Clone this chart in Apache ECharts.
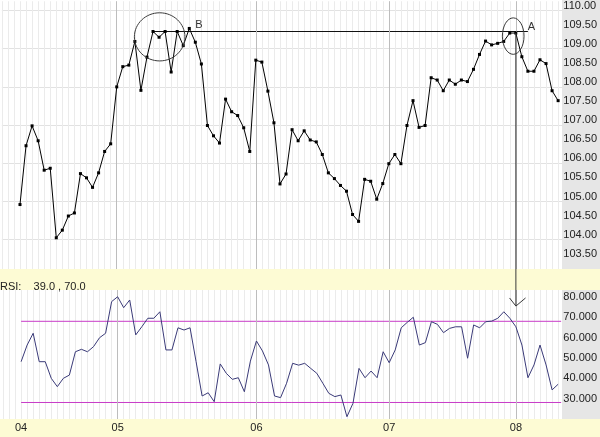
<!DOCTYPE html>
<html><head><meta charset="utf-8">
<script src="https://cdn.jsdelivr.net/npm/echarts@6/dist/echarts.min.js"></script>
<style>
html,body{margin:0;padding:0;background:#fff;}
#wrap{position:relative;width:600px;height:437px;overflow:hidden;background:#fff;}
.bg{position:absolute;}
#chart{position:absolute;left:0;top:0;width:600px;height:437px;}
</style></head><body>
<div id="wrap">
<div class="bg" style="left:562px;top:0;width:38px;height:269px;background:#e6e6e6"></div>
<div class="bg" style="left:0;top:269px;width:600px;height:21px;background:#fdfbd4"></div>
<div class="bg" style="left:562px;top:290px;width:38px;height:129px;background:#e6e6e6"></div>
<div class="bg" style="left:0;top:419px;width:600px;height:18px;background:#fdfbd4"></div>
<div id="chart"></div>
</div>
<script>
// ---- data ----
const priceVals = [
  104.92,106.46,106.98,106.59,105.82,105.87,104.05,104.25,104.62,104.70,
  105.73,105.62,105.37,105.75,106.31,106.51,108.00,108.53,108.57,109.19,
  107.91,108.78,109.45,109.30,109.45,108.39,109.45,109.08,109.53,109.17,
  108.60,106.99,106.72,106.53,107.68,107.35,107.25,106.93,106.31,108.70,
  108.65,107.89,107.06,105.46,105.72,106.88,106.59,106.85,106.61,106.56,
  106.23,105.75,105.60,105.42,105.27,104.66,104.48,105.58,105.53,105.06,
  105.47,105.99,106.23,105.99,106.99,107.64,106.94,106.99,108.24,108.18,
  107.90,108.18,108.07,108.18,108.14,108.46,108.85,109.20,109.10,109.14,
  109.19,109.41,109.41,108.79,108.41,108.41,108.71,108.61,107.90,107.64
];
const rsiVals = [
  50.1,58.3,64.1,50.1,50.1,41.9,37.8,41.9,43.5,55.0,
  56.2,55.0,57.5,61.9,64.1,79.7,82.1,76.7,80.5,63.3,
  67.3,71.5,71.5,74.7,55.9,55.9,66.8,65.7,66.8,50.1,
  33.2,34.8,30.4,49.0,44.4,41.4,42.2,35.3,50.4,60.3,
  55.4,48.5,33.2,32.4,39.5,49.3,48.4,49.3,46.8,44.4,
  39.5,34.5,32.9,33.7,23.0,29.6,46.8,42.2,45.5,42.2,
  55.0,49.6,55.9,66.8,69.5,72.0,58.3,59.5,69.8,68.5,
  64.4,66.5,67.3,67.3,51.8,68.2,66.8,69.8,70.1,71.5,
  74.7,71.5,67.3,58.3,42.2,48.5,58.3,48.5,36.2,39.0
];
const monthLabels = ['04','05','06','07','08'];
const monthStarts = [0,16,39,61,82];
const rsiTitle = 'RSI:    39.0 , 70.0';
const rsiBands = [70, 30];
const bandSpan = [0, 89.5];
const levelAB = 109.45;          // B-A horizontal line level
const levelFrom = 22, levelTo = 84;
const arrowIdx = 82, arrowRsi = 77.5, arrowHeadRsi = 81.5;

// ---- chart ----
const FONT = 'Liberation Sans, Arial, sans-serif';
const chart = echarts.init(document.getElementById('chart'), null, {renderer:'canvas'});
const G = {left:1.85, width:560.8};
function xAxisFor(gi, showLabels){
  return {
    type:'value', gridIndex:gi, min:-3, max:89.7, interval:1,
    axisLine:{show:false}, axisTick:{show:false},
    splitLine:{show:true, showMinLine:true, showMaxLine:false, lineStyle:{color:'#ebebeb', width:1}},
    axisLabel:{show:showLabels, margin:3, fontSize:11, fontFamily:FONT, color:'#222',
      formatter:function(v){ const k = monthStarts.indexOf(Math.round(v)); return (k>=0 && Math.abs(v-Math.round(v))<1e-6) ? monthLabels[k] : ''; }}
  };
}
const makeMonthLines = () => monthStarts.slice(1).map(m => ({xAxis:m}));

const bandSeries = rsiBands.map(b => ({
  type:'line', xAxisIndex:1, yAxisIndex:2, silent:true,
  data: bandSpan.map(x => [x, b]),
  symbol:'none', showSymbol:false,
  lineStyle:{color:'#c83cc8', width:1}, itemStyle:{color:'#c83cc8'},
  z:3
}));

chart.setOption({
  animation:false,
  backgroundColor:'transparent',
  title:{text:rsiTitle, left:-5, top:276, textStyle:{fontSize:11, fontWeight:'normal', fontFamily:FONT, color:'#222'}},
  grid:[
    {left:G.left, width:G.width, top:0, height:269},
    {left:G.left, width:G.width, top:290, height:129}
  ],
  xAxis:[ xAxisFor(0,false), xAxisFor(1,true) ],
  yAxis:[
    {type:'value', gridIndex:0, position:'right', min:103.233, max:110.242, splitNumber:14,
     axisLine:{show:false}, axisTick:{show:false}, splitLine:{show:false},
     axisLabel:{margin:1, fontSize:11, fontFamily:FONT, color:'#222', verticalAlign:'bottom', lineHeight:10,
       showMinLabel:false, showMaxLabel:false,
       formatter:function(v){ return Math.abs(v*2-Math.round(v*2))<1e-6 ? v.toFixed(2) : ''; }}},
    {type:'value', gridIndex:0, position:'right', min:103.233, max:110.242, splitNumber:7,
     axisLine:{show:false}, axisTick:{show:false}, axisLabel:{show:false},
     splitLine:{show:true, showMinLine:false, showMaxLine:false, lineStyle:{color:'#e2e2e2', width:1}}},
    {type:'value', gridIndex:1, position:'right', min:21.87, max:85.42, splitNumber:6,
     axisLine:{show:false}, axisTick:{show:false}, splitLine:{show:false},
     axisLabel:{margin:1, fontSize:11, fontFamily:FONT, color:'#222', verticalAlign:'bottom', lineHeight:8,
       showMinLabel:false, showMaxLabel:false,
       formatter:function(v){ return Math.abs(v/10-Math.round(v/10))<1e-6 ? v.toFixed(3) : ''; }}}
  ],
  series:[
    {type:'line', name:'price', xAxisIndex:0, yAxisIndex:0,
     data:priceVals.map((v,i)=>[i,v]),
     symbol:'rect', symbolSize:3, showSymbol:true,
     lineStyle:{color:'#000', width:1}, itemStyle:{color:'#000'},
     z:5,
     markLine:{silent:true, symbol:'none', label:{show:false}, animation:false,
       lineStyle:{color:'#bdbdbd', width:1, type:'solid'},
       data: makeMonthLines()}},
    {type:'line', name:'resistance', xAxisIndex:0, yAxisIndex:0, silent:true,
     data:[[levelFrom, levelAB],[levelTo, levelAB]],
     symbol:'none', showSymbol:false,
     lineStyle:{color:'#111', width:1}, itemStyle:{color:'#111'}, z:4},
    {type:'line', name:'rsi', xAxisIndex:1, yAxisIndex:2,
     data:rsiVals.map((v,i)=>[i,v]),
     showSymbol:false, symbol:'none',
     lineStyle:{color:'#3a3a78', width:1}, itemStyle:{color:'#3a3a78'},
     z:5,
     markLine:{silent:true, symbol:'none', label:{show:false}, animation:false,
       lineStyle:{color:'#bdbdbd', width:1, type:'solid'},
       data: makeMonthLines()}}
  ].concat(bandSeries)
});

// ---- annotations (positioned through the axes) ----
const P = (i,v) => chart.convertToPixel({xAxisIndex:0, yAxisIndex:0}, [i,v]);
const R = (i,v) => chart.convertToPixel({xAxisIndex:1, yAxisIndex:2}, [i,v]);
const bC = P(23.1, 109.31), bE = P(23.1+4.18, 109.31-0.63);
const aC = P(81.57, 109.33), aE = P(81.57+1.79, 109.33-0.477);
const bL = P(29.6, 109.61), aL = P(84.6, 109.57);
const arrStart = P(arrowIdx, priceVals[arrowIdx]);
const arrTip = R(arrowIdx, arrowRsi);
const headL = R(arrowIdx-1.05, arrowHeadRsi), headR = R(arrowIdx+1.6, arrowHeadRsi);
const stroke = {stroke:'#3a3a3a', lineWidth:1, fill:null};
chart.setOption({graphic:[
  {type:'ellipse', shape:{cx:bC[0], cy:bC[1], rx:bE[0]-bC[0], ry:bE[1]-bC[1]}, style:stroke, z:10, silent:true},
  {type:'ellipse', shape:{cx:aC[0], cy:aC[1], rx:aE[0]-aC[0], ry:aE[1]-aC[1]}, style:stroke, z:10, silent:true},
  {type:'text', x:bL[0], y:bL[1], style:{text:'B', fontSize:11, fontFamily:FONT, fill:'#333', align:'center', verticalAlign:'middle'}, z:10},
  {type:'text', x:aL[0], y:aL[1], style:{text:'A', fontSize:11, fontFamily:FONT, fill:'#333', align:'center', verticalAlign:'middle'}, z:10},
  {type:'polyline', shape:{points:[arrStart, arrTip]}, style:{stroke:'#3a3a3a', lineWidth:1}, z:10, silent:true},
  {type:'polyline', shape:{points:[headL, arrTip, headR]}, style:{stroke:'#3a3a3a', lineWidth:1}, z:10, silent:true}
]});
</script>
</body></html>
